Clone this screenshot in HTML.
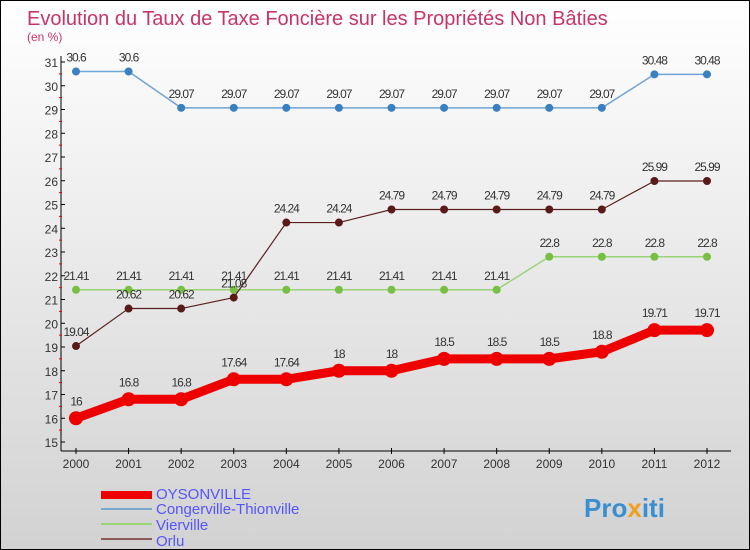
<!DOCTYPE html>
<html><head><meta charset="utf-8"><style>
body{margin:0}
#c{width:750px;height:550px;position:relative;box-sizing:border-box;border:1px solid #000;background:linear-gradient(#ffffff,#d2d2d2);font-family:"Liberation Sans",sans-serif;overflow:hidden}
</style></head><body>
<div id="c">
<svg id="s" width="748" height="548" style="position:absolute;left:0;top:0">
<text x="26" y="24" font-size="20" fill="#c8336a">Evolution du Taux de Taxe Foncière sur les Propriétés Non Bâties</text>
<text x="26" y="40" font-size="12" fill="#c8336a">(en %)</text>
<g id="axes"></g><g id="series"></g>
<g>
<rect x="100" y="490" width="51" height="8" fill="#ee0000"/>
<text x="155" y="498" font-size="15" fill="#5555ff">OYSONVILLE</text>
<rect x="100" y="507" width="51" height="2" fill="#7aa9cc"/>
<text x="155" y="513" font-size="15" fill="#5555ff">Congerville-Thionville</text>
<rect x="100" y="522" width="51" height="2" fill="#99d477"/>
<text x="155" y="529" font-size="15" fill="#5555ff">Vierville</text>
<rect x="100" y="537" width="51" height="2" fill="#8b5a5a"/>
<text x="155" y="545" font-size="15" fill="#5555ff">Orlu</text>
</g>
<text x="583" y="516" font-size="26" font-weight="bold" fill="#3a8fd0">Pro<tspan fill="#f0a020">x</tspan>iti</text>
</svg>
</div>
<script>
const years=[2000,2001,2002,2003,2004,2005,2006,2007,2008,2009,2010,2011,2012];
const oysonville=[16,16.8,16.8,17.64,17.64,18,18,18.5,18.5,18.5,18.8,19.71,19.71];
const congerville=[30.6,30.6,29.07,29.07,29.07,29.07,29.07,29.07,29.07,29.07,29.07,30.48,30.48];
const vierville=[21.41,21.41,21.41,21.41,21.41,21.41,21.41,21.41,21.41,22.8,22.8,22.8,22.8];
const orlu=[19.04,20.62,20.62,21.08,24.24,24.24,24.79,24.79,24.79,24.79,24.79,25.99,25.99];
const yTicks=[15,16,17,18,19,20,21,22,23,24,25,26,27,28,29,30,31];
const NS="http://www.w3.org/2000/svg";
const X=i=>75+i*(706-75)/(years.length-1);
const Y=v=>441-(v-15)*(380/16);
function mk(t,a,p){const e=document.createElementNS(NS,t);for(const k in a)e.setAttribute(k,a[k]);p.appendChild(e);return e;}
const ax=document.getElementById('axes');
let e=mk('line',{x1:60,y1:55,x2:60,y2:450,stroke:'#000'},ax);


e=mk('line',{x1:60,y1:450,x2:730,y2:450,stroke:'#000'},ax);


yTicks.forEach(v=>{
 mk('line',{x1:60,y1:Y(v),x2:64,y2:Y(v),stroke:'#000'},ax);
 if(v<31) mk('line',{x1:58,y1:Y(v+0.5),x2:61,y2:Y(v+0.5),stroke:'#e00'},ax);
 const t=mk('text',{x:57,y:Y(v)+5,'font-size':12,'text-anchor':'end',fill:'#333'},ax);t.textContent=v;
 
 
});
years.forEach((y,i)=>{
 mk('line',{x1:X(i),y1:447,x2:X(i),y2:453,stroke:'#000'},ax);
 const t=mk('text',{x:X(i),y:467,'font-size':12,'text-anchor':'middle',fill:'#333'},ax);t.textContent=y;
 
 
});
const sg=document.getElementById('series');
function series(name,vals,color,w,r,dot){
 const g=mk('g',{},sg);
 
 
 const l=mk('polyline',{points:vals.map((v,i)=>X(i)+','+Y(v)).join(' '),fill:'none',stroke:color,'stroke-width':w,'stroke-linejoin':'round'},g);
 
 
 vals.forEach((v,i)=>{
  const c=mk('circle',{cx:X(i),cy:Y(v),r:r,fill:dot},g);
  
  
  const t=mk('text',{x:X(i),y:Y(v)-(r+6),'font-size':12,'text-anchor':'middle',fill:'#333','letter-spacing':'-1'},g);t.textContent=v;
  
  
 });
}
series('congerville',congerville,'#6fa4d6',1.5,4,'#3a80c0');
series('vierville',vierville,'#99d477',1.5,4,'#77c044');
series('orlu',orlu,'#5a2020',1.2,4,'#5a1a1a');
series('oysonville',oysonville,'#ee0000',9,7,'#ee0000');
</script>
</body></html>
